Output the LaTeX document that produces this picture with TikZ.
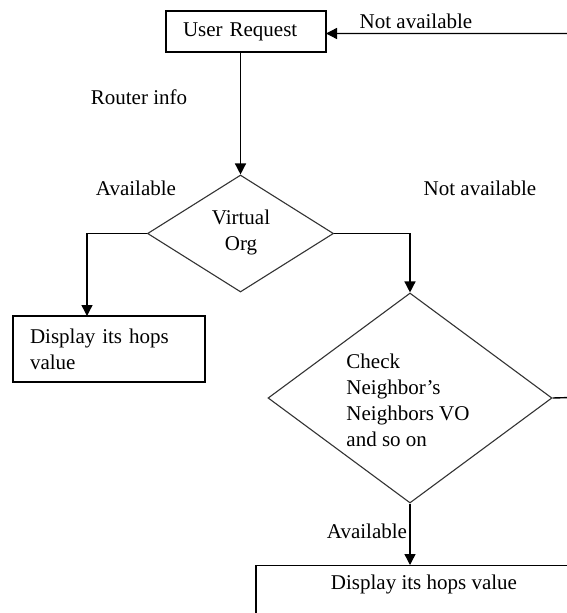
\documentclass[tikz,border=0pt]{standalone}
\usepackage{fontspec}
\setmainfont{Liberation Serif}
\usetikzlibrary{shapes.geometric,arrows.meta,calc}
\begin{document}
\begin{tikzpicture}[x=1pt,y=-1pt,
  every node/.style={font=\fontsize{21}{26}\selectfont},
  box/.style={draw=black, line width=1.4pt, rectangle, align=left},
  dia/.style={draw=black!80, line width=1.1pt, diamond, inner sep=0pt},
  lbl/.style={inner sep=0pt},
  line/.style={draw=black, line width=1.4pt},
  arr/.style={line, -{Triangle[length=11pt,width=11pt]}}]
\clip (0,0) rectangle (567,613);
\fill[white] (0,0) rectangle (567,613);
% nodes
\node[box, minimum height=41pt, text width=126pt, inner xsep=17pt, inner ysep=0pt] (ur) at (246,31.5) {User Request};
\node[dia, minimum width=186pt, minimum height=117pt, align=center] (d1) at (240.5,233.5) {};
\node[lbl, align=center] (d1t) at (241,232) {Virtual\\Org};
\node[box, minimum height=66pt, text width=158pt, inner xsep=17pt, inner ysep=0pt] (lb) at (109,349) {Display its hops\\value};
\node[dia, minimum width=284pt, minimum height=210pt] (d2) at (410,398) {};
\node[lbl, align=left] (d2t) at (408,400) {Check\\Neighbor's\\Neighbors VO\\and so on};
\node[box, anchor=north, minimum width=336pt, inner ysep=9pt, text height=15pt, text depth=60pt, align=center] (bot) at (424,565) {Display its hops value};
% labels
\node[lbl] (l1) at (416,21) {Not available};
\node[lbl] (l2) at (139,97) {Router info};
\node[lbl] (l3) at (136,188) {Available};
\node[lbl] (l4) at (480,188) {Not available};
\node[lbl] (l5) at (367,531) {Available};
% connectors
\coordinate (lbin) at (87,316);
\coordinate (urin) at (326,33.5);
\coordinate (farR) at (590,397);
\draw[arr] (ur.south -| d1.north) -- (d1.north);
\draw[arr] (d1.west) -| (lbin);
\draw[arr] (d1.east) -| (d2.north);
\draw[arr] (d2.south) -- (d2.south |- bot.north);
\draw[arr] (d2.east) -- (farR) |- (urin);
\end{tikzpicture}
\end{document}
